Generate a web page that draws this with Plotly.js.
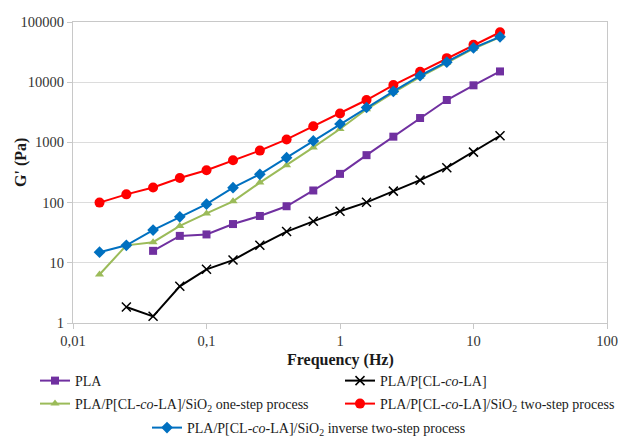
<!DOCTYPE html>
<html>
<head>
<meta charset="utf-8">
<script src="https://cdn.plot.ly/plotly-3.0.1.min.js"></script>
<style>html,body{margin:0;padding:0;background:#fff;}#chart{width:618px;height:437px;}</style>
</head>
<body>
<div id="chart"></div>
<script>
// Frequency (Hz)
var freqAll = [0.0158,0.0251,0.0398,0.0631,0.1,0.158,0.251,0.398,0.631,1,1.58,2.51,3.98,6.31,10,15.8];
var freqPLA = [0.0398,0.0631,0.1,0.158,0.251,0.398,0.631,1,1.58,2.51,3.98,6.31,10,15.8];
var freqBlend = [0.0251,0.0398,0.0631,0.1,0.158,0.251,0.398,0.631,1,1.58,2.51,3.98,6.31,10,15.8];

// G' (Pa)
var gPLA = [15.8,28,29.6,44,60,87,159,300,614,1245,2540,5060,8880,15100];
var gBlend = [1.84,1.29,4.07,7.8,11.1,19.5,33,49,72,101,155,236,380,690,1290];
var gOneStep = [6.4,19.5,22,41,66,105,215,417,826,1670,3550,6700,12300,21000,36000,56000];
var gTwoStep = [100,137,178,256,344,505,731,1120,1850,3030,5060,8970,14900,25100,41900,67600];
var gInverse = [15,19.5,35,58,94,177,295,558,1060,2020,3800,7030,12800,21500,37100,56700];

var names = [
  'PLA',
  'PLA/P[CL-<i>co</i>-LA]',
  'PLA/P[CL-<i>co</i>-LA]/SiO<sub>2</sub> one-step process',
  'PLA/P[CL-<i>co</i>-LA]/SiO<sub>2</sub> two-step process',
  'PLA/P[CL-<i>co</i>-LA]/SiO<sub>2</sub> inverse two-step process'
];

var xTickVals = [0.01,0.1,1,10,100];
var xTickText = ['0,01','0,1','1','10','100'];
var yTickVals = [1,10,100,1000,10000,100000];
var yTickText = ['1','10','100','1000','10000','100000'];
var xTitle = '<b>Frequency (Hz)</b>';
var yTitle = "<b>G' (Pa)</b>";

var serif = '"Liberation Serif", serif';

var traces = [
  {x: freqPLA, y: gPLA, name: names[0], legend: 'legend', mode: 'lines+markers',
   line: {color: '#7030A0', width: 2}, marker: {symbol: 'square', size: 8, color: '#7030A0'}},
  {x: freqBlend, y: gBlend, name: names[1], legend: 'legend2', mode: 'lines+markers',
   line: {color: '#000000', width: 2}, marker: {symbol: 'x-thin', size: 9, color: '#000000', line: {color: '#000000', width: 1.5}}},
  {x: freqAll, y: gOneStep, name: names[2], legend: 'legend3', mode: 'lines+markers',
   line: {color: '#9BBB59', width: 2}, marker: {symbol: 'triangle-up', size: 8, color: '#9BBB59'}},
  {x: freqAll, y: gTwoStep, name: names[3], legend: 'legend4', mode: 'lines+markers',
   line: {color: '#FF0000', width: 2}, marker: {symbol: 'circle', size: 10, color: '#FF0000'}},
  {x: freqAll, y: gInverse, name: names[4], legend: 'legend5', mode: 'lines+markers',
   line: {color: '#0070C0', width: 2}, marker: {symbol: 'diamond', size: 9, color: '#0070C0'}}
];

function leg(x, y) {
  return {
    orientation: 'v', xanchor: 'left', yanchor: 'middle', x: x, y: y,
    font: {family: serif, size: 14, color: '#1a1a1a'},
    bgcolor: 'rgba(0,0,0,0)', borderwidth: 0
  };
}

var layout = {
  width: 618, height: 437,
  margin: {l: 73, r: 11, t: 22, b: 114, autoexpand: false},
  paper_bgcolor: '#ffffff', plot_bgcolor: '#ffffff',
  font: {family: serif, size: 14, color: '#333333'},
  showlegend: true,
  xaxis: {
    type: 'log', range: [-2, 2],
    tickvals: xTickVals, ticktext: xTickText,
    showgrid: false, zeroline: false,
    showline: true, linecolor: '#c8c8c8', linewidth: 1, mirror: true,
    ticks: 'outside', ticklen: 5, tickcolor: '#c8c8c8',
    tickfont: {family: serif, size: 14.5, color: '#333333'}
  },
  yaxis: {
    type: 'log', range: [0, 5],
    tickvals: yTickVals, ticktext: yTickText,
    showgrid: true, gridcolor: '#dcdcdc', gridwidth: 1, zeroline: false,
    showline: true, linecolor: '#c8c8c8', linewidth: 1, mirror: true,
    ticks: 'outside', ticklen: 5, tickcolor: '#c8c8c8',
    tickfont: {family: serif, size: 14.5, color: '#333333'}
  },
  annotations: [
    {text: xTitle, xref: 'paper', yref: 'paper', x: 0.5, y: -(360 - 323) / 301,
     xanchor: 'center', yanchor: 'middle', showarrow: false,
     font: {family: serif, size: 16, color: '#1a1a1a'}},
    {text: yTitle, xref: 'paper', yref: 'paper', x: (21 - 73) / 534, y: (323 - 163) / 301,
     xanchor: 'center', yanchor: 'middle', showarrow: false, textangle: -90,
     font: {family: serif, size: 16, color: '#1a1a1a'}}
  ],
  legend: leg((35 - 73) / 534, -(381 - 323) / 301),
  legend2: leg((340 - 73) / 534, -(381 - 323) / 301),
  legend3: leg((35 - 73) / 534, -(404 - 323) / 301),
  legend4: leg((340 - 73) / 534, -(404 - 323) / 301),
  legend5: leg((147 - 73) / 534, -(428 - 323) / 301)
};

Plotly.newPlot('chart', traces, layout, {displayModeBar: false, staticPlot: true});
</script>
</body>
</html>
